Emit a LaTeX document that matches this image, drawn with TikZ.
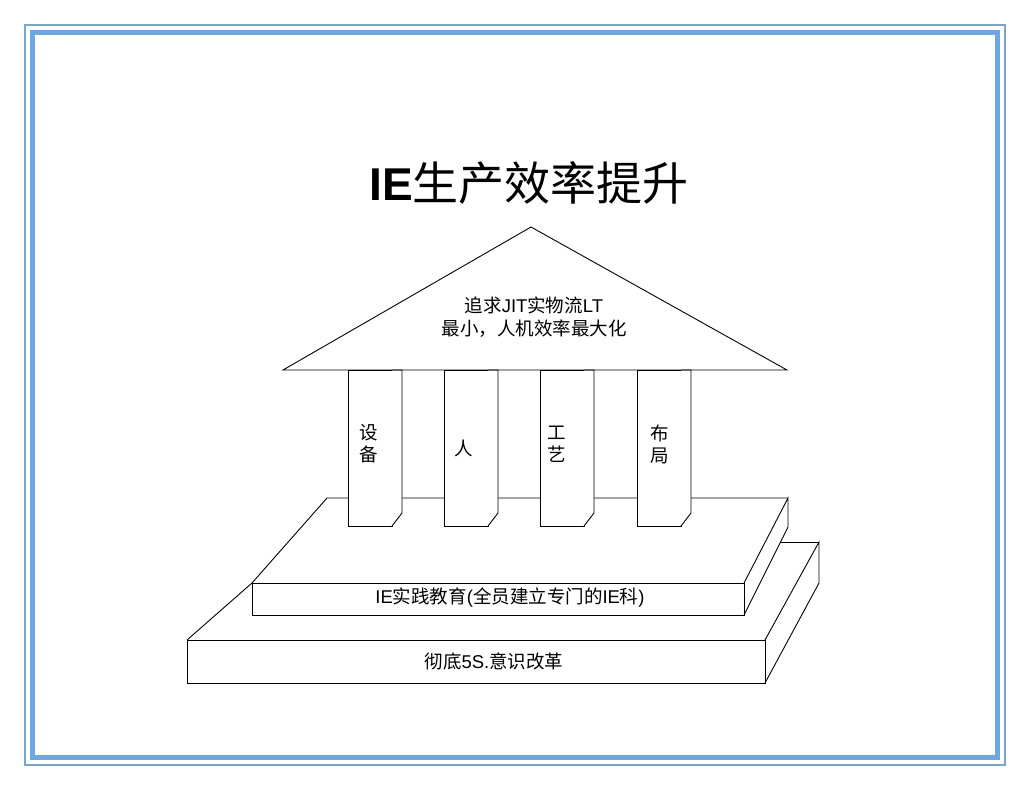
\documentclass[tikz,border=0pt]{standalone}
\usepackage{fontspec}
\setmainfont{Liberation Sans}
\newfontfamily\song{Noto Sans CJK SC}
\usepackage{tikz}

\definecolor{frameblue}{RGB}{111,168,220}
\definecolor{framegray}{RGB}{122,166,200}

\tikzset{
  edge/.style={line width=0.9pt,black,line join=miter},
  pillar/.style={edge,fill=white},
  label/.style={inner sep=0pt,font=\fontsize{18.5}{22}\selectfont,align=center}
}

\begin{document}
\begin{tikzpicture}[x=1pt,y=-1pt]

\useasboundingbox (0,0) rectangle (1030,790);

% frame
\draw[framegray,line width=2pt] (24.5,24.5) rectangle (1005,765);
\draw[frameblue,line width=5pt] (32.5,32.5) rectangle (997.5,757.5);

\node (title) at (529,183) {\fontsize{46}{46}\selectfont\textbf{IE}{\song 生产效率提升}};

% lower slab
\draw[edge] (187,640) rectangle (765,683);
\draw[edge] (765,640)--(819,542)--(819,583)--(765,683);
\draw[edge] (819,542)--(780,542);
\draw[edge] (187,640)--(252,583);
\node[label] (base) at (494,661) {{\song 彻底}5S.{\song 意识改革}};

% upper slab
\draw[edge] (252,583) rectangle (744,615);
\draw[edge] (744,583)--(788,498)--(788,527)--(744,615);
\draw[edge] (252,583)--(327,498)--(788,498);
\node[label] (school) at (510,598) {IE{\song 实践教育}({\song 全员建立专门的}IE{\song 科})};

% pillars
\draw[pillar] (348,370) rectangle (392,526);
\draw[pillar] (392,370)--(402,370)--(402,513)--(392,526);
\draw[pillar] (444,370) rectangle (488,526);
\draw[pillar] (488,370)--(498,370)--(498,513)--(488,526);
\draw[pillar] (540,370) rectangle (584,526);
\draw[pillar] (584,370)--(594,370)--(594,513)--(584,526);
\draw[pillar] (637,370) rectangle (681,526);
\draw[pillar] (681,370)--(691,370)--(691,513)--(681,526);
\node[label] (col1) at (369,444) {\song 设\\\song 备};
\node[label] (col2) at (464,448) {\song 人};
\node[label] (col3) at (557,444) {\song 工\\\song 艺};
\node[label] (col4) at (660,444) {\song 布\\\song 局};

% roof
\draw[edge] (283,370)--(531,227)--(787,370)--cycle;
\node[label,font=\fontsize{18.5}{23}\selectfont] (roof) at (534,317)
  {{\song 追求}JIT{\song 实物流}LT\\{\song 最小，人机效率最大化}};

\end{tikzpicture}
\end{document}
